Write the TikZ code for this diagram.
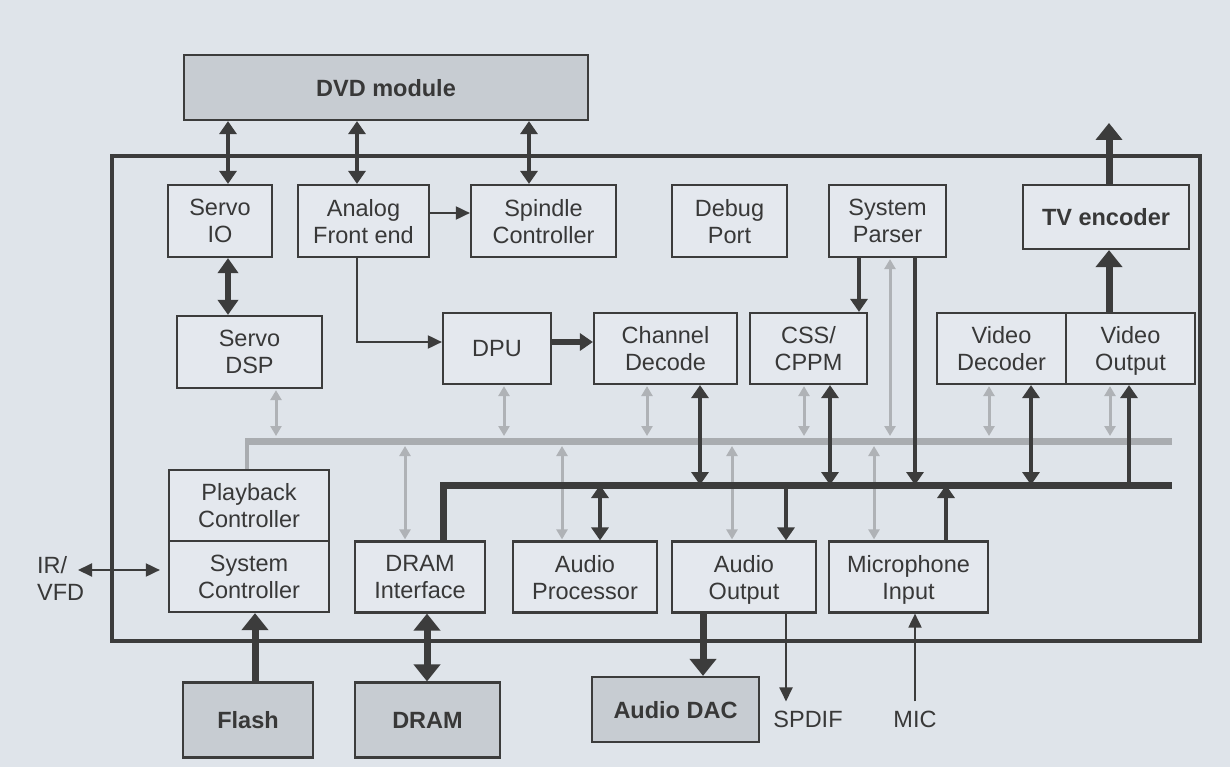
\documentclass[tikz,border=0pt]{standalone}
\usepackage{fontspec}
\setmainfont{Liberation Sans}
\usetikzlibrary{arrows.meta}
\definecolor{bgc}{HTML}{DFE4EA}
\definecolor{boxc}{HTML}{E4E8EE}
\definecolor{darkbox}{HTML}{C7CCD2}
\definecolor{linec}{HTML}{3C3C3C}
\definecolor{textc}{HTML}{383838}
\definecolor{greyc}{HTML}{A9ACB0}
\definecolor{greya}{HTML}{AFB2B6}
\tikzset{
  tS/.tip={Triangle[length=14pt,width=13pt]},
  tM/.tip={Triangle[length=13pt,width=17pt]},
  tK/.tip={Triangle[length=15pt,width=20pt]},
  tL/.tip={Triangle[length=17pt,width=26pt]},
  tG/.tip={Triangle[length=10pt,width=11pt]},
}
\begin{document}
\begin{tikzpicture}[x=1pt,y=-1pt,
  box/.style={draw=linec, line width=2.2pt, fill=boxc, text=textc, align=center,
    font=\fontsize{23.5}{27}\selectfont, inner sep=0pt, text depth=-5pt},
  onebox/.style={box, text depth=0pt},
  dbox/.style={onebox, fill=darkbox, font=\fontsize{23.5}{27}\selectfont\bfseries},
  lbl/.style={text=textc, font=\fontsize{23.5}{27}\selectfont, inner sep=0pt},
  thinln/.style={draw=linec, line width=1.9pt},
  medln/.style={draw=linec, line width=4.5pt},
  thkln/.style={draw=linec, line width=7pt},
  greyln/.style={draw=greya, line width=3pt},
]
\useasboundingbox (0,0) rectangle (1230,767);
\fill[bgc] (0,0) rectangle (1230,767);

% outer chip box
\node[draw=linec, line width=4pt, minimum width=1088pt, minimum height=484pt, inner sep=0pt] (outer) at (656,398.5) {};

% external boxes
\node[dbox, minimum width=404pt, minimum height=65pt] (dvd) at (386,87.5) {DVD module};
\node[dbox, minimum width=130pt, minimum height=75pt] (flash) at (248,720) {Flash};
\node[dbox, minimum width=145pt, minimum height=75pt] (dram) at (427.5,720) {DRAM};
\node[dbox, minimum width=167pt, minimum height=65pt] (dac) at (675.5,709.5) {Audio DAC};

% top row
\node[box, minimum width=104pt, minimum height=72pt] (servoio) at (220,221) {Servo\\IO};
\node[box, minimum width=131pt, minimum height=72pt] (analog) at (363.5,221) {Analog\\Front end};
\node[box, minimum width=145pt, minimum height=72pt] (spindle) at (543.5,221) {Spindle\\Controller};
\node[box, minimum width=115pt, minimum height=72pt] (debug) at (729.5,221) {Debug\\Port};
\node[box, minimum width=117pt, minimum height=72pt] (parser) at (887.5,221) {System\\Parser};
\node[onebox, minimum width=166pt, minimum height=64pt, font=\fontsize{23.5}{27}\selectfont\bfseries] (tv) at (1106,217) {TV encoder};

% middle row
\node[box, minimum width=145pt, minimum height=72pt] (servodsp) at (249.5,352) {Servo\\DSP};
\node[onebox, minimum width=108pt, minimum height=71pt] (dpu) at (497,348.5) {DPU};
\node[box, minimum width=143pt, minimum height=71pt] (chan) at (665.5,348.5) {Channel\\Decode};
\node[box, minimum width=117pt, minimum height=71pt] (css) at (808.5,348.5) {CSS/\\CPPM};
\node[box, minimum width=129pt, minimum height=71pt] (vdec) at (1001.5,348.5) {Video\\Decoder};
\node[box, minimum width=129pt, minimum height=71pt] (vout) at (1130.5,348.5) {Video\\Output};

% bottom row
\node[box, minimum width=160pt, minimum height=71pt] (playback) at (249,505.5) {Playback\\Controller};
\node[box, minimum width=160pt, minimum height=71pt] (sysctl) at (249,576.5) {System\\Controller};
\node[box, minimum width=130pt, minimum height=71pt] (draminf) at (420,577) {DRAM\\Interface};
\node[box, minimum width=144pt, minimum height=71pt] (aproc) at (585,577) {Audio\\Processor};
\node[box, minimum width=144pt, minimum height=71pt] (aout) at (744,577) {Audio\\Output};
\node[box, minimum width=159pt, minimum height=71pt] (mic) at (908.5,577) {Microphone\\Input};

% free labels
\node[lbl, align=left, anchor=west] (irvfd) at (37,578) {IR/\\VFD};
\node[lbl] (spdif) at (808,719) {SPDIF};
\node[lbl] (micl) at (915,719) {MIC};

% bus coordinates
\coordinate (gbL) at (247,441);
\coordinate (gbR) at (1172,441);
\coordinate (bbR) at (1172,485);
\coordinate (irend) at (78,570);
\coordinate (tvout) at (1109,123);

% grey bus
\draw[greyc, line width=3.5pt] (playback.north -| 247,0) -- (247,444);
\draw[greyc, line width=7pt] (245.25,441) -- (gbR);

% grey arrows above bus
\foreach \n/\x in {servodsp/276, dpu/504, chan/647, css/804, vdec/989, vout/1110}
  \draw[greyln, tG-tG, shorten >=5pt, shorten <=1pt] (\n.south -| \x,0) -- (gbR -| \x,0);
\draw[greyln, tG-tG, shorten >=5pt, shorten <=1pt] (parser.south -| 890,0) -- (gbR -| 890,0);
% grey arrows below bus
\foreach \n/\x in {draminf/405, aproc/562, aout/732, mic/874}
  \draw[greyln, tG-tG, shorten <=5pt, shorten >=1pt] (gbR -| \x,0) -- (\n.north -| \x,0);

% DVD links
\draw[draw=linec, line width=4pt, tM-tM] (dvd.south -| 228,0) -- (servoio.north -| 228,0);
\draw[draw=linec, line width=4pt, tM-tM] (dvd.south -| 357,0) -- (analog.north -| 357,0);
\draw[draw=linec, line width=4pt, tM-tM] (dvd.south -| 529,0) -- (spindle.north -| 529,0);
\draw[draw=linec, line width=6pt, tK-tK] (servoio.south -| 228,0) -- (servodsp.north -| 228,0);
\draw[thinln, -tS] (analog.east |- 0,213) -- (spindle.west |- 0,213);
\draw[thinln, -tS] (analog.south -| 357,0) |- (dpu.west |- 0,342);
\draw[draw=linec, line width=5.5pt, -tM] (dpu.east |- 0,342) -- (chan.west |- 0,342);
\draw[medln, -tM] (parser.south -| 859,0) -- (css.north -| 859,0);
\draw[medln, -tM] (parser.south -| 915,0) -- (bbR -| 915,0);
\draw[thkln, -tL] (vout.north -| 1109,0) -- (tv.south -| 1109,0);
\draw[thkln, -tL] (tv.north -| 1109,0) -- (tvout);

% black links to bus
\foreach \n/\x in {chan/700, css/830, vdec/1031}
  \draw[medln, tM-tM] (\n.south -| \x,0) -- (bbR -| \x,0);
\draw[medln, -tM] (bbR -| 1129,0) -- (vout.south -| 1129,0);
\draw[medln, tM-tM] (bbR -| 600,0) -- (aproc.north -| 600,0);
\draw[medln, -tM] (bbR -| 786,0) -- (aout.north -| 786,0);
\draw[medln, -tM] (mic.north -| 946,0) -- (bbR -| 946,0);

% black bus
\draw[linec, line width=7pt, line join=miter] (draminf.north -| 443,0) |- (bbR);

% external links
\draw[thinln, tS-tS, shorten >=8pt] (irend) -- (sysctl.west |- 0,570);
\draw[thkln, -tL] (flash.north -| 255,0) -- (sysctl.south -| 255,0);
\draw[thkln, tL-tL] (dram.north -| 427,0) -- (draminf.south -| 427,0);
\draw[thkln, -tL] (aout.south -| 703,0) -- (dac.north -| 703,0);
\draw[thinln, -tS, shorten >=9pt] (aout.south -| 786,0) -- (spdif.north -| 786,0);
\draw[thinln, -tS, shorten <=9pt] (micl.north -| 915,0) -- (mic.south -| 915,0);
\end{tikzpicture}
\end{document}
